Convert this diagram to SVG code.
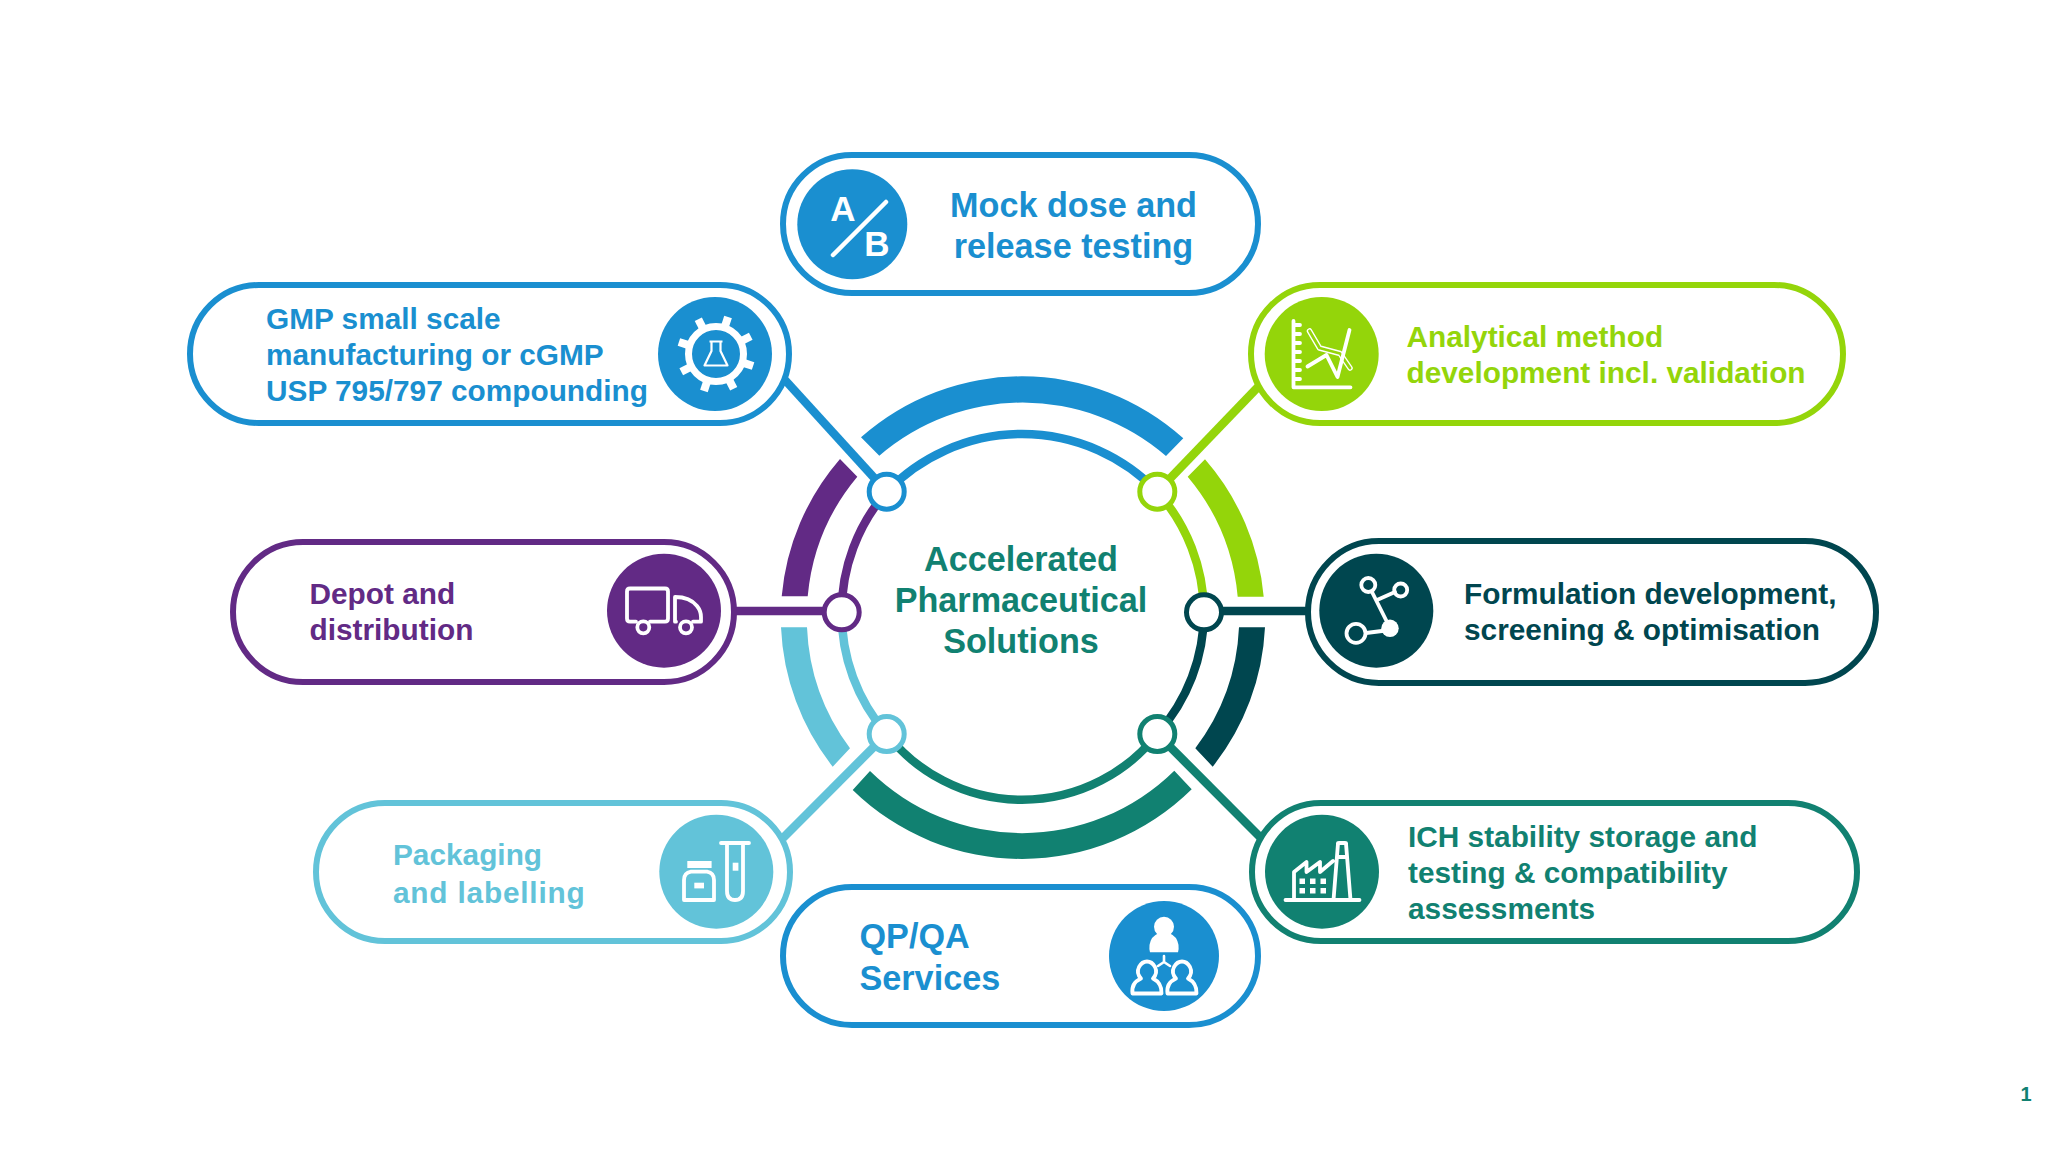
<svg xmlns="http://www.w3.org/2000/svg" width="2048" height="1152" viewBox="0 0 2048 1152">
<style>
text{font-family:"Liberation Sans",Arial,sans-serif;font-weight:700}
.t30{font-size:29.8px}.t34{font-size:34.2px}
.pill{fill:#fff;stroke-width:6}
.ic{fill:none;stroke:#fff;stroke-width:3.8;stroke-linecap:round;stroke-linejoin:round}
.icf{fill:#fff}
.cn{fill:none;stroke-width:8.5}
.nd{fill:#fff;stroke-width:5}
</style>
<rect width="2048" height="1152" fill="#fff"/>
<g id="connectors">
<g class="cn">
<path stroke="#1a8fd0" d="M785 380L886.7 491.7"/>
<path stroke="#94d50a" d="M1258 387L1157.3 491.7"/>
<path stroke="#622a85" d="M733 611H841.7"/>
<path stroke="#00464f" d="M1310 611H1204"/>
<path stroke="#62c3d9" d="M783 838L886.7 734"/>
<path stroke="#118171" d="M1260 837L1157.3 734"/>
<path stroke="#1a8fd0" d="M886.7 491.7A187.5 187.5 0 0 1 1157.3 491.7"/>
<path stroke="#94d50a" d="M1157.3 491.7A183 183 0 0 1 1204 612"/>
<path stroke="#00464f" d="M1204 612A183 183 0 0 1 1157.3 734"/>
<path stroke="#118171" d="M1157.3 734A172 172 0 0 1 886.7 734"/>
<path stroke="#62c3d9" d="M886.7 734A183 183 0 0 1 841.7 612"/>
<path stroke="#622a85" d="M841.7 612A183 183 0 0 1 886.7 491.7"/>
</g>
</g>
<g id="ring">
<path fill="#1a8fd0" d="M861 437.3A242 242 0 0 1 1183.3 438.3L1166 456A219.5 219.5 0 0 0 879.3 455.7Z"/>
<path fill="#94d50a" d="M1205 459.3A242 242 0 0 1 1263.7 596.7H1237.7A217 217 0 0 0 1187.7 476.7Z"/>
<path fill="#622a85" d="M840 459A242 242 0 0 0 781.7 596.3H807.7A217 217 0 0 1 857.3 476.7Z"/>
<path fill="#62c3d9" d="M781 627.3H807A217 217 0 0 0 850 748.3L832.7 766.7A242 242 0 0 1 781 627.3Z"/>
<path fill="#00464f" d="M1265 627.3H1239A217 217 0 0 1 1195.3 748.3L1212.7 766.7A242 242 0 0 0 1265 627.3Z"/>
<path fill="#118171" d="M852.7 790A242 242 0 0 0 1191.7 789.3L1174.3 770.7A217 217 0 0 1 870 771Z"/>
</g>
<g id="node-mock" fill="#1a8fd0">
<rect class="pill" stroke="#1a8fd0" x="783" y="155" width="475" height="138" rx="69"/>
<circle cx="852.3" cy="224.3" r="55"/>
<text x="843" y="220.7" font-size="35" text-anchor="middle" fill="#fff">A</text>
<text x="877" y="255.7" font-size="35" text-anchor="middle" fill="#fff">B</text>
<path d="M833 255L886 202" stroke="#fff" stroke-width="4.5" stroke-linecap="round"/>
<text class="t34" x="1073.500" y="216.500" text-anchor="middle">Mock dose and</text>
<text class="t34" x="1073.500" y="257.500" text-anchor="middle">release testing</text>
</g>
<g id="node-gmp" fill="#1a8fd0">
<rect class="pill" stroke="#1a8fd0" x="190" y="285" width="599" height="138" rx="69"/>
<circle cx="715" cy="354" r="57"/>
<g transform="translate(716 354)">
<circle r="27.5" fill="none" stroke="#fff" stroke-width="7"/>
<g fill="#fff">
<rect x="-4" y="-39" width="8" height="11" transform="rotate(18)"/>
<rect x="-4" y="-39" width="8" height="11" transform="rotate(63)"/>
<rect x="-4" y="-39" width="8" height="11" transform="rotate(108)"/>
<rect x="-4" y="-39" width="8" height="11" transform="rotate(153)"/>
<rect x="-4" y="-39" width="8" height="11" transform="rotate(198)"/>
<rect x="-4" y="-39" width="8" height="11" transform="rotate(243)"/>
<rect x="-4" y="-39" width="8" height="11" transform="rotate(288)"/>
<rect x="-4" y="-39" width="8" height="11" transform="rotate(333)"/>
</g>
<path d="M-6.5 -12.5H6.5M-4.5 -12.5V-3L-11.5 11.5H11.5L4.5 -3V-12.5" fill="none" stroke="#fff" stroke-width="2.2" stroke-linejoin="round"/>
</g>
<text class="t30" x="266" y="329">GMP small scale</text>
<text class="t30" x="266" y="365">manufacturing or cGMP</text>
<text class="t30" x="266" y="401">USP 795/797 compounding</text>
</g>
<g id="node-analytical" fill="#94d50a">
<rect class="pill" stroke="#94d50a" x="1251" y="285" width="592" height="138" rx="69"/>
<circle cx="1321.7" cy="354" r="57"/>
<path class="ic" stroke-linecap="butt" d="M1293.5 321V387.3H1350.5M1293.5 325H1300M1293.5 334H1300M1293.5 343H1300M1293.5 352H1300M1293.5 361H1300M1293.5 370H1300M1293.5 379H1300"/>
<path fill="none" stroke="#fff" stroke-width="5.500" stroke-linecap="round" stroke-linejoin="round" d="M1309.5 331L1319.5 348L1340 353.5L1350 368"/>
<path fill="none" stroke="#94d50a" stroke-width="2.800" stroke-linecap="round" stroke-linejoin="round" d="M1309.5 331L1319.5 348L1340 353.5L1350 368"/>
<path class="ic" d="M1307.5 366.5L1326.5 355L1337.5 377L1349.5 330"/>
<text class="t30" x="1406.5" y="347">Analytical method</text>
<text class="t30" x="1406.5" y="383">development incl. validation</text>
</g>
<g id="node-depot" fill="#622a85">
<rect class="pill" stroke="#622a85" x="233" y="542" width="501" height="140" rx="70"/>
<circle cx="664" cy="610.7" r="57"/>
<path class="ic" d="M636 621.7H630Q627 621.7 627 618.5V591.5Q627 588.5 630 588.5H665Q668 588.5 668 591.5V618.5Q668 621.7 665 621.7H650M676 621.7H675V597Q690 597 697 606Q701 611 701 617V621.7H693"/>
<circle class="ic" cx="643.3" cy="627.3" r="6"/>
<circle class="ic" cx="686" cy="627.3" r="6"/>
<text class="t30" x="309.5" y="604">Depot and</text>
<text class="t30" x="309.5" y="640">distribution</text>
</g>
<g id="node-formulation" fill="#00464f">
<rect class="pill" stroke="#00464f" x="1308" y="541" width="568" height="142" rx="71"/>
<circle cx="1376.3" cy="610.7" r="57"/>
<path class="ic" d="M1372 592L1390 628M1377 600L1395 592M1366 633L1390 630"/>
<circle class="ic" cx="1368.3" cy="585" r="7"/>
<circle class="ic" cx="1400.7" cy="590" r="6.5"/>
<circle class="ic" cx="1356" cy="633.3" r="9.5"/>
<circle class="icf" cx="1390" cy="628.3" r="8.7"/>
<text class="t30" x="1464" y="604">Formulation development,</text>
<text class="t30" x="1464" y="640">screening &amp; optimisation</text>
</g>
<g id="node-packaging" fill="#62c3d9">
<rect class="pill" stroke="#62c3d9" x="316" y="803" width="474" height="138" rx="69"/>
<circle cx="716.3" cy="871.7" r="57"/>
<path class="ic" d="M721 843H749M727 843V891Q727 900 735 900Q743 900 743 891V843"/>
<rect class="icf" x="732.7" y="862.7" width="5.7" height="8"/>
<rect class="icf" x="687.3" y="861" width="24.3" height="7"/>
<path class="ic" d="M684 900V880Q684 873 691 871.7H707Q714 873 714 880V900Z"/>
<rect class="icf" x="694.3" y="882.7" width="9.7" height="5.7"/>
<text class="t30" x="393" y="865">Packaging</text>
<text class="t30" x="393" y="902.500" letter-spacing="0.8">and labelling</text>
</g>
<g id="node-qp" fill="#1a8fd0">
<rect class="pill" stroke="#1a8fd0" x="783" y="887" width="475" height="138" rx="69"/>
<circle cx="1164" cy="956" r="55"/>
<circle class="icf" cx="1164" cy="926.7" r="10"/>
<path class="icf" d="M1150 952.3Q1149 950 1149.5 945Q1151 936 1159 933H1169Q1177 936 1178.5 945Q1179 950 1178 952.3Z"/>
<path class="ic" style="stroke-width:2.6" d="M1164 956V962M1164 962L1158 966M1164 962L1170 966"/>
<g class="ic">
<path d="M1132.500 993.500Q1131 983 1141 978.500Q1136 973 1139 967Q1142 961.500 1147 961.500Q1152 961.500 1155 967Q1158 973 1153 978.500Q1162 983 1161.500 993.500Z"/>
<path d="M1167.500 993.500Q1166 983 1176 978.500Q1171 973 1174 967Q1177 961.500 1182 961.500Q1187 961.500 1190 967Q1193 973 1188 978.500Q1197 983 1196.500 993.500Z"/>
</g>
<text class="t34" x="859.500" y="947.500">QP/QA</text>
<text class="t34" x="859.500" y="989.500">Services</text>
</g>
<g id="node-ich" fill="#118171">
<rect class="pill" stroke="#118171" x="1252" y="803" width="605" height="138" rx="69"/>
<circle cx="1322" cy="871.700" r="57"/>
<path class="ic" d="M1285.500 900H1359.500M1294 900V872L1306.500 862V872L1320 862V872L1333 861M1333.500 900L1338 843.500Q1338 843 1339 843H1345Q1346 843 1346 843.500L1350.500 900M1338 857H1346"/>
<g class="icf">
<rect x="1299.500" y="878.500" width="5.500" height="5.500"/><rect x="1310" y="878.500" width="5.500" height="5.500"/><rect x="1320.500" y="878.500" width="5.500" height="5.500"/>
<rect x="1299.500" y="888" width="5.500" height="5.500"/><rect x="1310" y="888" width="5.500" height="5.500"/><rect x="1320.500" y="888" width="5.500" height="5.500"/>
</g>
<text class="t30" x="1408" y="847">ICH stability storage and</text>
<text class="t30" x="1408" y="883">testing &amp; compatibility</text>
<text class="t30" x="1408" y="919">assessments</text>
</g>
<g id="junctions">
<circle class="nd" stroke="#1a8fd0" cx="886.700" cy="491.700" r="17.500"/>
<circle class="nd" stroke="#94d50a" cx="1157.300" cy="491.700" r="17.500"/>
<circle class="nd" stroke="#622a85" cx="841.700" cy="612.300" r="17.500"/>
<circle class="nd" stroke="#00464f" cx="1204" cy="612.300" r="17.500"/>
<circle class="nd" stroke="#62c3d9" cx="886.700" cy="734" r="17.500"/>
<circle class="nd" stroke="#118171" cx="1157.300" cy="734" r="17.500"/>
</g>
<g id="node-center" fill="#118171">
<text class="t34" x="1021" y="571" text-anchor="middle">Accelerated</text>
<text class="t34" x="1021" y="612" text-anchor="middle">Pharmaceutical</text>
<text class="t34" x="1021" y="653" text-anchor="middle">Solutions</text>
</g>
<text x="2026" y="1101" font-size="20" text-anchor="middle" fill="#118171">1</text>
</svg>
